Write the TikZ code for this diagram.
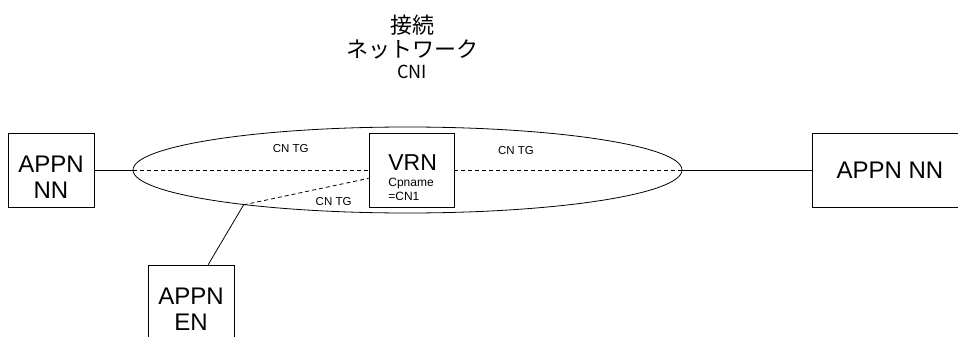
\documentclass[tikz,border=0pt]{standalone}
\usepackage{fontspec}
\setmainfont{Liberation Sans}
\newfontfamily\jpfont{Noto Sans CJK JP}
\usetikzlibrary{shapes.geometric}

\begin{document}
\begin{tikzpicture}[x=1pt, y=-1pt, line width=0.8pt,
        box/.style = {draw, rectangle, inner sep=0pt, minimum width=86pt, minimum height=74pt},
        big/.style = {font=\fontsize{24}{26}\selectfont, align=center, inner sep=0pt},
        tglabel/.style = {font=\fontsize{11.5}{13}\selectfont, inner sep=0pt},
        tglink/.style = {dash pattern=on 4pt off 3pt}]
    \useasboundingbox (0,0) rectangle (958,337);

    \node[align=center, font=\jpfont\fontsize{22}{24}\selectfont] (title) at (412,47) {接続\\ネットワーク\\[-3pt]{\fontsize{18}{20}\selectfont CNI}};

    \node[draw, ellipse, inner sep=0pt, minimum width=549pt, minimum height=86pt] (cn) at (407.5,170) {};

    \node[box] (nnl) at (51,170) {};
    \node[big] (nnltext) at ([yshift=-7pt]nnl.center) {APPN\\NN};
    \node[box, minimum width=85pt] (vrn) at (411.5,170) {};
    \node[anchor=north west, align=left, inner sep=0pt, font=\fontsize{12}{14}\selectfont] (vrntext) at ([xshift=-23.5pt, yshift=-22pt]vrn.north) {{\fontsize{23}{23}\selectfont VRN}\\[2pt]Cpname\\=CN1};
    \node[box, big, minimum width=156pt] (nnr) at (890,170) {APPN NN};
    \node[box, big, minimum height=89pt] (en) at (191,309.5) {APPN\\EN};

    \coordinate (tap) at (cn.192);

    \draw (nnl.east) -- (cn.west);
    \draw[tglink] (cn.west) -- node[tglabel, pos=0.67, above=17pt] {CN TG} (vrn.west);
    \draw[tglink] (vrn.east) -- node[tglabel, pos=0.27, above=15pt] {CN TG} (cn.east);
    \draw (cn.east) -- (nnr.west);
    \draw[tglink] (tap) -- node[tglabel, pos=0.72, below=11pt] {CN TG} (vrn.191);
    \draw (tap) -- (en.69);
\end{tikzpicture}
\end{document}
